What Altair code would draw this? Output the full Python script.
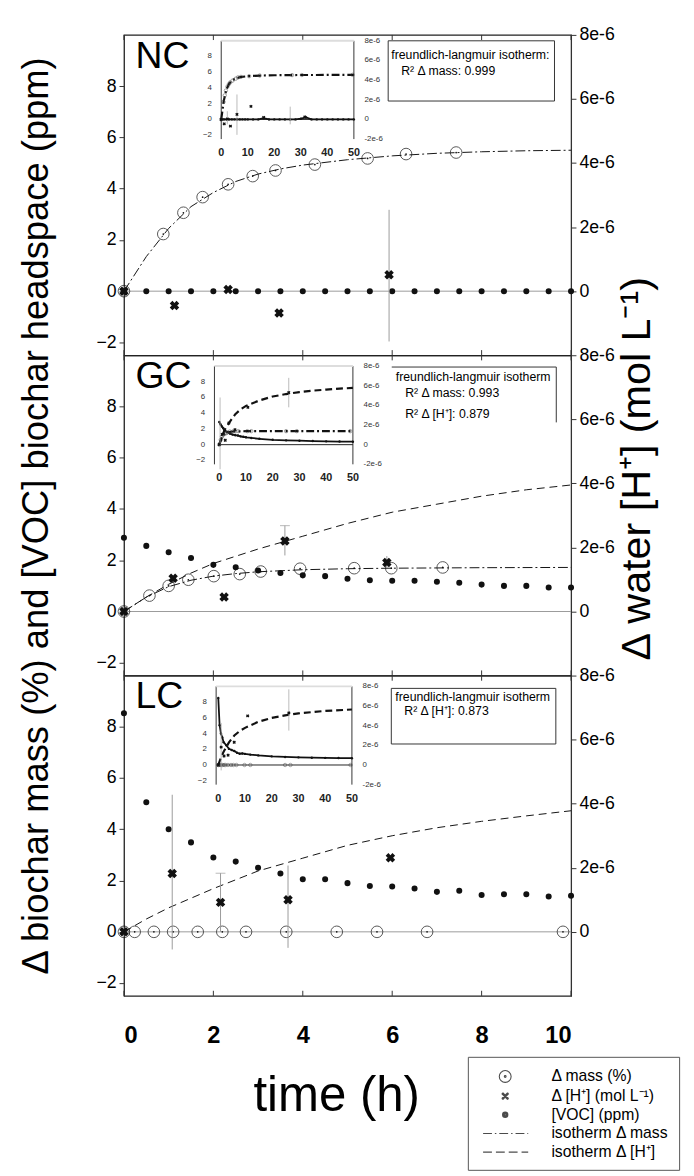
import altair as alt
import pandas as pd

FONT = "Liberation Sans"
W, H = 455, 326

# ---------------- tick / label values ----------------
X_TICKS = [0, 2, 4, 6, 8, 10]
L_TICKS = [-2, 0, 2, 4, 6, 8]
R_TICKS = [0, 2e-6, 4e-6, 6e-6, 8e-6]
IN_X_TICKS = [0, 10, 20, 30, 40, 50]
IN_L_TICKS = [-2, 0, 2, 4, 6, 8]
IN_R_TICKS = [-2e-6, 0, 2e-6, 4e-6, 6e-6, 8e-6]
IN_R_LABELS = ["-2e-6", "0", "2e-6", "4e-6", "6e-6", "8e-6"]
LEFT_TITLE = "\u0394 biochar mass (%) and [VOC] biochar headspace (ppm)"
RIGHT_TITLE = "\u0394 water [H\u207a] (mol L\u207b\u00b9)"

# ---------------- main data (time in h) ----------------
voc_hours = [0, 0.5, 1, 1.5, 2, 2.5, 3, 3.5, 4, 4.5, 5, 5.5, 6, 6.5, 7, 7.5, 8, 8.5, 9, 9.5, 10]

# NC
nc_voc = [0, 0, 0, 0, 0, 0, 0, 0, 0, 0, 0, 0, 0, 0, 0, 0, 0, 0, 0, 0, 0]
nc_mass_t = [0, 0.88, 1.33, 1.76, 2.33, 2.88, 3.39, 4.27, 5.45, 6.31, 7.43]
nc_mass = [0, 2.23, 3.06, 3.67, 4.17, 4.49, 4.71, 4.94, 5.18, 5.35, 5.41]
nc_iso_mass_t = [0, 0.5, 1, 1.5, 2, 2.5, 3, 3.5, 4, 5, 6, 7, 8, 9, 10]
nc_iso_mass = [0, 1.35, 2.45, 3.3, 3.85, 4.28, 4.57, 4.77, 4.92, 5.13, 5.28, 5.38, 5.44, 5.48, 5.5]
nc_h_t = [0, 1.13, 2.33, 3.47, 5.93]
nc_h = [0, -0.45e-6, 0.05e-6, -0.68e-6, 0.51e-6]
nc_err_t = [5.93]
nc_err_lo = [-1.57e-6]
nc_err_hi = [2.54e-6]
nc_cap_t = []
nc_cap = []
nc_iso_h_t = []
nc_iso_h = []

# GC
gc_voc = [2.88, 2.56, 2.31, 2.09, 1.82, 1.73, 1.60, 1.50, 1.41, 1.38, 1.28, 1.22, 1.20, 1.20, 1.16, 1.12,
          1.05, 1.00, 1.00, 0.94, 0.94]
gc_mass_t = [0, 0.57, 1.0, 1.44, 2.01, 2.59, 3.06, 3.94, 5.15, 5.98, 7.13]
gc_mass = [0, 0.62, 1.0, 1.24, 1.38, 1.46, 1.56, 1.67, 1.69, 1.69, 1.72]
gc_iso_mass_t = [0, 0.5, 1, 1.5, 2, 2.5, 3, 4, 5, 6, 8, 10]
gc_iso_mass = [0, 0.56, 0.97, 1.22, 1.38, 1.48, 1.55, 1.63, 1.67, 1.69, 1.71, 1.72]
gc_h_t = [0, 1.1, 2.24, 3.6, 5.88]
gc_h = [0, 1.04e-6, 0.45e-6, 2.2e-6, 1.53e-6]
gc_err_t = [3.6, 5.88]
gc_err_lo = [1.75e-6, 1.36e-6]
gc_err_hi = [2.68e-6, 1.73e-6]
gc_cap_t = [3.6]
gc_cap = [2.68e-6]
gc_iso_h_t = [0, 0.5, 1, 1.5, 2, 3, 4, 5, 6, 7, 8, 9, 10]
gc_iso_h = [0, 0.45e-6, 0.85e-6, 1.2e-6, 1.5e-6, 1.95e-6, 2.35e-6, 2.75e-6, 3.1e-6, 3.35e-6, 3.6e-6,
            3.8e-6, 3.95e-6]

# LC
lc_voc = [8.53, 5.06, 4.0, 3.49, 2.90, 2.74, 2.5, 2.28, 2.05, 2.05, 1.9, 1.79, 1.77, 1.69, 1.56, 1.6,
          1.44, 1.47, 1.47, 1.38, 1.41]
lc_mass_t = [0, 0.24, 0.67, 1.1, 1.65, 2.2, 2.73, 3.63, 4.76, 5.66, 6.78, 9.82]
lc_mass = [0, 0, 0, 0, 0, 0, 0, 0, 0, 0, 0, 0]
lc_iso_mass_t = []
lc_iso_mass = []
lc_h_t = [0, 1.08, 2.16, 3.67, 5.96]
lc_h = [0, 1.82e-6, 0.92e-6, 1.0e-6, 2.31e-6]
lc_err_t = [1.08, 2.16, 3.67]
lc_err_lo = [-0.55e-6, 0.0, -0.5e-6]
lc_err_hi = [4.28e-6, 1.83e-6, 2.07e-6]
lc_cap_t = [2.16]
lc_cap = [1.83e-6]
lc_iso_h_t = [0, 0.5, 1, 1.5, 2, 3, 4, 5, 6, 7, 8, 9, 10]
lc_iso_h = [0, 0.4e-6, 0.75e-6, 1.05e-6, 1.35e-6, 1.9e-6, 2.3e-6, 2.7e-6, 3.0e-6, 3.25e-6, 3.45e-6,
            3.62e-6, 3.78e-6]

# ---------------- inset data (time in h, 0-50) ----------------
nc_in_voc_t = [0, 1, 2, 3, 4, 5, 6, 7, 8, 9, 10, 12, 14, 16, 18, 20, 22, 24, 26, 28, 30, 32, 34, 36,
               38, 40, 42, 44, 46, 48, 50]
nc_in_voc = [0, 0, 0, 0, 0, 0, 0, 0, 0, 0, 0, 0, 0, 0.15, 0, 0, 0, 0, 0, 0, 0.1, 0.25, 0, 0,
             0, 0, 0, 0, 0, 0, 0]
nc_in_mass_t = [0, 0.88, 1.33, 1.76, 2.33, 2.88, 3.39, 4.27, 5.45, 6.31, 7.43, 10.5, 14.5, 26.7, 30.4, 49.5]
nc_in_mass = [0, 2.23, 3.06, 3.67, 4.17, 4.49, 4.71, 4.94, 5.18, 5.35, 5.41, 5.5, 5.58, 5.64, 5.65, 5.67]
nc_in_iso_mass_t = [0, 1, 2, 3, 4, 5, 7, 10, 15, 20, 30, 40, 50]
nc_in_iso_mass = [0, 2.45, 3.85, 4.55, 4.92, 5.13, 5.38, 5.5, 5.58, 5.62, 5.65, 5.66, 5.67]
nc_in_h_t = [0, 1.13, 2.33, 3.47, 5.93, 11.2, 16, 31.5]
nc_in_h = [0, -0.45e-6, 0.05e-6, -0.68e-6, 0.51e-6, 1.33e-6, 0.2e-6, 0.25e-6]
nc_in_err_t = [2.3, 5.93, 26]
nc_in_err_lo = [-0.5e-6, -1.57e-6, -0.5e-6]
nc_in_err_hi = [0.83e-6, 2.54e-6, 1.3e-6]
nc_in_iso_h_t = []
nc_in_iso_h = []

gc_in_voc_t = [0, 0.5, 1, 1.5, 2, 3, 4, 5, 6, 7, 8, 9, 10, 12, 15, 20, 25, 30, 35, 40, 45, 50]
gc_in_voc = [2.88, 2.56, 2.31, 2.09, 1.82, 1.60, 1.41, 1.28, 1.20, 1.16, 1.05, 1.0, 0.94, 0.85, 0.75,
             0.62, 0.55, 0.5, 0.46, 0.42, 0.4, 0.38]
gc_in_mass_t = [0, 0.57, 1.0, 1.44, 2.01, 2.59, 3.06, 3.94, 5.15, 5.98, 7.13, 10.5, 12, 25, 29, 49]
gc_in_mass = [0, 0.62, 1.0, 1.24, 1.38, 1.46, 1.56, 1.67, 1.69, 1.69, 1.72, 1.72, 1.72, 1.72, 1.72, 1.72]
gc_in_iso_mass_t = [0, 1, 2, 3, 5, 10, 20, 50]
gc_in_iso_mass = [0, 0.97, 1.38, 1.55, 1.67, 1.72, 1.72, 1.72]
gc_in_h_t = [0, 1.1, 2.24, 3.6, 5.88, 10.7, 26]
gc_in_h = [0, 1.04e-6, 0.45e-6, 2.2e-6, 1.53e-6, 3.8e-6, 5.3e-6]
gc_in_err_t = [0.3, 26]
gc_in_err_lo = [-2.5e-6, 3.8e-6]
gc_in_err_hi = [4.8e-6, 6.8e-6]
gc_in_iso_h_t = [0, 1, 2, 4, 6, 8, 10, 15, 20, 25, 30, 35, 40, 45, 50]
gc_in_iso_h = [0, 0.85e-6, 1.5e-6, 2.35e-6, 3.1e-6, 3.6e-6, 3.95e-6, 4.5e-6, 4.9e-6, 5.15e-6, 5.35e-6,
               5.5e-6, 5.6e-6, 5.7e-6, 5.78e-6]

lc_in_voc_t = [0, 0.5, 1, 1.5, 2, 3, 4, 5, 6, 7, 8, 9, 10, 12, 15, 20, 25, 30, 35, 40, 45, 50]
lc_in_voc = [8.53, 5.06, 4.0, 3.49, 2.9, 2.5, 2.05, 1.9, 1.77, 1.56, 1.44, 1.47, 1.41, 1.32, 1.22, 1.1,
             1.02, 0.97, 0.93, 0.9, 0.88, 0.86]
lc_in_mass_t = [0, 0.24, 0.67, 1.1, 1.65, 2.2, 2.73, 3.63, 4.76, 5.66, 6.78, 9.82, 12, 25, 27, 49.5]
lc_in_mass = [0, 0, 0, 0, 0, 0, 0, 0, 0, 0, 0, 0, 0, 0, 0, 0]
lc_in_iso_mass_t = []
lc_in_iso_mass = []
lc_in_h_t = [0, 1.08, 2.16, 3.67, 5.96, 11, 26.4]
lc_in_h = [0, 1.82e-6, 0.92e-6, 1.0e-6, 2.31e-6, 5.0e-6, 5.3e-6]
lc_in_err_t = [1.08, 26.4]
lc_in_err_lo = [-0.55e-6, 3.5e-6]
lc_in_err_hi = [4.28e-6, 7.7e-6]
lc_in_iso_h_t = [0, 1, 2, 4, 6, 8, 10, 15, 20, 25, 30, 40, 50]
lc_in_iso_h = [0, 0.75e-6, 1.35e-6, 2.3e-6, 3.0e-6, 3.45e-6, 3.78e-6, 4.4e-6, 4.8e-6, 5.05e-6, 5.25e-6,
               5.5e-6, 5.65e-6]

# ---------------- annotation boxes ----------------
nc_box = [5.91, 9.63, 7.42, 9.77]
nc_txt_t = [5.98, 6.2]
nc_txt_v = [9.23, 8.58]
nc_txt = ["freundlich-langmuir isotherm:", "R\u00b2 \u0394 mass: 0.999"]
gc_box = [5.99, 9.67, 7.38, 9.54]
gc_txt_t = [6.08, 6.29, 6.29]
gc_txt_v = [9.15, 8.54, 7.69]
gc_txt = ["freundlich-langmuir isotherm", "R\u00b2 \u0394 mass: 0.993", "R\u00b2 \u0394 [H\u207a]: 0.879"]
lc_box = [5.98, 9.66, 7.33, 9.5]
lc_txt_t = [6.07, 6.27]
lc_txt_v = [9.15, 8.6]
lc_txt = ["freundlich-langmuir isotherm", "R\u00b2 \u0394 [H\u207a]: 0.873"]

# ---------------- legend ----------------
LEG_LABELS = ["\u0394 mass (%)", "\u0394 [H\u207a] (mol L\u207b\u00b9)", "[VOC] (ppm)",
              "isotherm \u0394 mass", "isotherm \u0394 [H\u207a]"]
LEG_PATHS = [
    "M0.67,0A0.67,0.67,0,1,1,-0.67,0A0.67,0.67,0,1,1,0.67,0M0.1,0A0.1,0.1,0,1,1,-0.1,0A0.1,0.1,0,1,1,0.1,0",
    "M-0.36,-0.36L0.36,0.36M-0.36,0.36L0.36,-0.36M-0.28,-0.4L0.4,0.28M-0.4,-0.28L0.28,0.4"
    "M-0.28,0.4L0.4,-0.28M-0.4,0.28L0.28,-0.4",
    "M0.3,0A0.3,0.3,0,1,1,-0.3,0A0.3,0.3,0,1,1,0.3,0M0.2,0A0.2,0.2,0,1,1,-0.2,0A0.2,0.2,0,1,1,0.2,0"
    "M0.1,0A0.1,0.1,0,1,1,-0.1,0A0.1,0.1,0,1,1,0.1,0",
    "M-2.5,0H-1.5M-1.17,0H-1.0M-0.67,0H0.33M0.67,0H0.83M1.17,0H2.17M2.5,0H2.6",
    "M-2.5,0H-1.5M-1.05,0H-0.05M0.4,0H1.4M1.85,0H2.6",
]
LEG_T = [-5, -5, -5, -5, -5]
LEG_V = [-5, -5, -5, -5, -5]

PANELS = {
    "NC": dict(voc=nc_voc, mass_t=nc_mass_t, mass=nc_mass, iso_mass_t=nc_iso_mass_t, iso_mass=nc_iso_mass,
               h_t=nc_h_t, h=nc_h, err_t=nc_err_t, err_lo=nc_err_lo, err_hi=nc_err_hi, cap_t=nc_cap_t,
               cap=nc_cap, iso_h_t=nc_iso_h_t, iso_h=nc_iso_h, box=nc_box, full_box=True,
               txt_t=nc_txt_t, txt_v=nc_txt_v, txt=nc_txt,
               inset=dict(IL=99, IR=234, IZ=86, IFL=0.0, voc_t=nc_in_voc_t, voc=nc_in_voc,
                          mass_t=nc_in_mass_t, mass=nc_in_mass, iso_mass_t=nc_in_iso_mass_t,
                          iso_mass=nc_in_iso_mass, h_t=nc_in_h_t, h=nc_in_h, err_t=nc_in_err_t,
                          err_lo=nc_in_err_lo, err_hi=nc_in_err_hi, iso_h_t=nc_in_iso_h_t,
                          iso_h=nc_in_iso_h)),
    "GC": dict(voc=gc_voc, mass_t=gc_mass_t, mass=gc_mass, iso_mass_t=gc_iso_mass_t, iso_mass=gc_iso_mass,
               h_t=gc_h_t, h=gc_h, err_t=gc_err_t, err_lo=gc_err_lo, err_hi=gc_err_hi, cap_t=gc_cap_t,
               cap=gc_cap, iso_h_t=gc_iso_h_t, iso_h=gc_iso_h, box=gc_box, full_box=False,
               txt_t=gc_txt_t, txt_v=gc_txt_v, txt=gc_txt,
               inset=dict(IL=97, IR=233, IZ=91, IFL=-1.8, voc_t=gc_in_voc_t, voc=gc_in_voc,
                          mass_t=gc_in_mass_t, mass=gc_in_mass, iso_mass_t=gc_in_iso_mass_t,
                          iso_mass=gc_in_iso_mass, h_t=gc_in_h_t, h=gc_in_h, err_t=gc_in_err_t,
                          err_lo=gc_in_err_lo, err_hi=gc_in_err_hi, iso_h_t=gc_in_iso_h_t,
                          iso_h=gc_in_iso_h)),
    "LC": dict(voc=lc_voc, mass_t=lc_mass_t, mass=lc_mass, iso_mass_t=lc_iso_mass_t, iso_mass=lc_iso_mass,
               h_t=lc_h_t, h=lc_h, err_t=lc_err_t, err_lo=lc_err_lo, err_hi=lc_err_hi, cap_t=lc_cap_t,
               cap=lc_cap, iso_h_t=lc_iso_h_t, iso_h=lc_iso_h, box=lc_box, full_box=True,
               txt_t=lc_txt_t, txt_v=lc_txt_v, txt=lc_txt,
               inset=dict(IL=96, IR=232, IZ=91, IFL=-0.8, voc_t=lc_in_voc_t, voc=lc_in_voc,
                          mass_t=lc_in_mass_t, mass=lc_in_mass, iso_mass_t=lc_in_iso_mass_t,
                          iso_mass=lc_in_iso_mass, h_t=lc_in_h_t, h=lc_in_h, err_t=lc_in_err_t,
                          err_lo=lc_in_err_lo, err_hi=lc_in_err_hi, iso_h_t=lc_in_iso_h_t,
                          iso_h=lc_in_iso_h)),
}

BLACK = "#111111"
GREY = "#9a9a9a"


def main_left(name, P, bottom, title, legend):
    XM = alt.Scale(domain=[0, 10], nice=False, zero=False)
    YL = alt.Scale(domain=[-2.5, 10], nice=False, zero=False)
    if bottom:
        AXX = alt.Axis(values=X_TICKS, format="d", labelFontSize=24, labelFontWeight="bold",
                       labelPadding=28, ticks=False, domain=False, grid=False, title="time (h)",
                       titleFontSize=50, titleFontWeight="normal", titleX=216, titleY=102,
                       titleAlign="center", titleBaseline="middle")
    else:
        AXX = None
    kw = dict(values=L_TICKS, labelFontSize=18, tickSize=5, labelPadding=3, grid=False, orient="left")
    if title:
        kw.update(title=LEFT_TITLE, titleFontSize=37, titleFontWeight="normal", titleAngle=270,
                  titleX=-89, titleY=H / 2, titleAlign="center", titleBaseline="middle")
    else:
        kw.update(title=None)
    AXL = alt.Axis(**kw)

    def X(f):
        return alt.X(f, type="quantitative", scale=XM, axis=AXX)

    def Y(f):
        return alt.Y(f, type="quantitative", scale=YL, axis=AXL)

    L = []
    L.append(alt.Chart(pd.DataFrame({"v": [0]})).mark_rule(color=GREY, strokeWidth=1).encode(y=Y("v")))
    tdf = pd.DataFrame({"t": X_TICKS})
    L.append(alt.Chart(tdf).transform_calculate(a="-2.5", b="-2.3")
             .mark_rule(color="#333333").encode(x=X("t"), y=Y("a"), y2="b"))
    L.append(alt.Chart(tdf).transform_calculate(a="10", b="9.8")
             .mark_rule(color="#333333").encode(x=X("t"), y=Y("a"), y2="b"))
    # annotation box
    b = P["box"]
    bdf = pd.DataFrame({"t0": [b[0]], "t1": [b[1]], "v0": [b[2]], "v1": [b[3]]})
    if P["full_box"]:
        L.append(alt.Chart(bdf).mark_rect(fill="white", stroke="#333333", strokeWidth=1)
                 .encode(x=X("t0"), x2="t1", y=Y("v0"), y2="v1"))
    else:
        L.append(alt.Chart(bdf).mark_rect(fill="white", strokeWidth=0)
                 .encode(x=X("t0"), x2="t1", y=Y("v0"), y2="v1"))
        L.append(alt.Chart(bdf).mark_rule(color="#333333").encode(x=X("t0"), x2="t1", y=Y("v1")))
        L.append(alt.Chart(bdf).mark_rule(color="#333333").encode(x=X("t1"), y=Y("v0"), y2="v1"))
    L.append(alt.Chart(pd.DataFrame({"t": P["txt_t"], "v": P["txt_v"], "s": P["txt"]}))
             .mark_text(align="left", baseline="middle", fontSize=12.5, font=FONT, color="black")
             .encode(x=X("t"), y=Y("v"), text="s:N"))
    # data
    L.append(alt.Chart(pd.DataFrame({"t": voc_hours, "v": P["voc"]}))
             .mark_circle(size=38, color=BLACK, opacity=1).encode(x=X("t"), y=Y("v")))
    if P["iso_mass_t"]:
        L.append(alt.Chart(pd.DataFrame({"t": P["iso_mass_t"], "v": P["iso_mass"]}))
                 .mark_line(color=BLACK, strokeWidth=1, strokeDash=[10, 3, 2, 3])
                 .encode(x=X("t"), y=Y("v")))
    mdf = pd.DataFrame({"t": P["mass_t"], "v": P["mass"]})
    L.append(alt.Chart(mdf).mark_point(shape="circle", filled=False, size=140, color=BLACK, strokeWidth=1)
             .encode(x=X("t"), y=Y("v")))
    L.append(alt.Chart(mdf).mark_circle(size=3, color=BLACK, opacity=1).encode(x=X("t"), y=Y("v")))
    # panel label
    L.append(alt.Chart(pd.DataFrame({"t": [0.26], "v": [9.15], "s": [name]}))
             .mark_text(align="left", baseline="middle", fontSize=38, font=FONT, color="black")
             .encode(x=X("t"), y=Y("v"), text="s:N"))
    if legend:
        L.append(alt.Chart(pd.DataFrame({"t": LEG_T, "v": LEG_V, "k": LEG_LABELS}))
                 .mark_point(filled=False, clip=True, color="black", strokeWidth=1.1)
                 .encode(x=X("t"), y=Y("v"),
                         shape=alt.Shape("k:N", scale=alt.Scale(domain=LEG_LABELS, range=LEG_PATHS),
                                         legend=alt.Legend(title=None, orient="none", legendX=350,
                                                           legendY=388, symbolSize=324,
                                                           symbolStrokeWidth=1.1,
                                                           symbolStrokeColor="black",
                                                           symbolOffset=18, labelOffset=37,
                                                           labelFontSize=16, labelFont=FONT,
                                                           labelColor="black", padding=10,
                                                           rowPadding=1, strokeColor="#555555",
                                                           fillColor="white"))))
    return alt.layer(*L)


def main_right(P, title):
    XM = alt.Scale(domain=[0, 10], nice=False, zero=False)
    YR = alt.Scale(domain=[-2e-6, 8e-6], nice=False, zero=False)
    kw = dict(values=R_TICKS, labelFontSize=18, tickSize=5, labelPadding=3, grid=False, orient="right",
              labelExpr="datum.value == 0 ? '0' : round(datum.value * 1000000) + 'e-6'")
    if title:
        kw.update(title=RIGHT_TITLE, titleFontSize=42, titleFontWeight="normal", titleAngle=270,
                  titleX=67, titleY=115, titleAlign="center", titleBaseline="middle")
    else:
        kw.update(title=None)
    AXR = alt.Axis(**kw)

    def X(f):
        return alt.X(f, type="quantitative", scale=XM, axis=None)

    def Y(f):
        return alt.Y(f, type="quantitative", scale=YR, axis=AXR)

    L = []
    if P["iso_h_t"]:
        L.append(alt.Chart(pd.DataFrame({"t": P["iso_h_t"], "v": P["iso_h"]}))
                 .mark_line(color=BLACK, strokeWidth=1, strokeDash=[8, 5]).encode(x=X("t"), y=Y("v")))
    L.append(alt.Chart(pd.DataFrame({"t": P["err_t"], "lo": P["err_lo"], "hi": P["err_hi"]}))
             .mark_rule(color=GREY, strokeWidth=1).encode(x=X("t"), y=Y("lo"), y2="hi"))
    if P["cap_t"]:
        L.append(alt.Chart(pd.DataFrame({"t": P["cap_t"], "v": P["cap"]}))
                 .mark_tick(orient="horizontal", size=10, thickness=1, color=GREY)
                 .encode(x=X("t"), y=Y("v")))
    L.append(alt.Chart(pd.DataFrame({"t": P["h_t"], "v": P["h"]}))
             .mark_point(shape="cross", angle=45, filled=True, size=95, color=BLACK, opacity=1)
             .encode(x=X("t"), y=Y("v")))
    return alt.layer(*L)


def inset(I):
    ppt = (I["IR"] - I["IL"]) / 50.0
    XI = alt.Scale(domain=[-I["IL"] / ppt, (W - I["IL"]) / ppt], nice=False, zero=False)
    YIL = alt.Scale(domain=[(I["IZ"] - H) / 8.0, I["IZ"] / 8.0], nice=False, zero=False)
    YIR = alt.Scale(domain=[(I["IZ"] - H) / 10.0 * 1e-6, I["IZ"] / 10.0 * 1e-6], nice=False, zero=False)

    def X(f):
        return alt.X(f, type="quantitative", scale=XI, axis=None)

    def YL(f):
        return alt.Y(f, type="quantitative", scale=YIL, axis=None)

    def YR(f):
        return alt.Y(f, type="quantitative", scale=YIR, axis=None)

    A = []
    fdf = pd.DataFrame({"t": [I["IFL"], 50], "a": [-2.5, -2.5], "b": [10, 10]})
    A.append(alt.Chart(fdf).mark_rule(color="#333333", strokeWidth=1).encode(x=X("t"), y=YL("a"), y2="b"))
    A.append(alt.Chart(pd.DataFrame({"t0": [I["IFL"]], "t1": [50], "v": [10]}))
             .mark_rule(color="#dddddd", strokeWidth=2).encode(x=X("t0"), x2="t1", y=YL("v")))
    A.append(alt.Chart(pd.DataFrame({"t0": [0], "t1": [50], "v": [0]}))
             .mark_rule(color="#222222", strokeWidth=1).encode(x=X("t0"), x2="t1", y=YL("v")))
    A.append(alt.Chart(pd.DataFrame({"v": IN_L_TICKS}))
             .transform_calculate(t=str(I["IFL"] - 3.5))
             .mark_text(align="right", baseline="middle", fontSize=8, font=FONT, color="#333333")
             .encode(x=X("t"), y=YL("v"), text=alt.Text("v:Q", format="d")))
    A.append(alt.Chart(pd.DataFrame({"t": IN_X_TICKS}))
             .transform_calculate(v="-4.3")
             .mark_text(align="center", baseline="middle", fontSize=11, fontWeight="bold", font=FONT,
                        color="#222222")
             .encode(x=X("t"), y=YL("v"), text=alt.Text("t:Q", format="d")))
    A.append(alt.Chart(pd.DataFrame({"t": I["voc_t"], "v": I["voc"]}))
             .mark_line(color=BLACK, strokeWidth=1.8).encode(x=X("t"), y=YL("v")))
    A.append(alt.Chart(pd.DataFrame({"t": I["voc_t"], "v": I["voc"]}))
             .mark_circle(size=6, color=BLACK, opacity=1).encode(x=X("t"), y=YL("v")))
    if I["iso_mass_t"]:
        A.append(alt.Chart(pd.DataFrame({"t": I["iso_mass_t"], "v": I["iso_mass"]}))
                 .mark_line(color=BLACK, strokeWidth=2.2, strokeDash=[8, 3, 2, 3])
                 .encode(x=X("t"), y=YL("v")))
    A.append(alt.Chart(pd.DataFrame({"t": I["mass_t"], "v": I["mass"]}))
             .mark_point(shape="circle", filled=False, size=12, strokeWidth=0.7, color="#444444")
             .encode(x=X("t"), y=YL("v")))

    B = []
    B.append(alt.Chart(pd.DataFrame({"v": IN_R_TICKS, "s": IN_R_LABELS}))
             .transform_calculate(t="54")
             .mark_text(align="left", baseline="middle", fontSize=8, font=FONT, color="#333333")
             .encode(x=X("t"), y=YR("v"), text="s:N"))
    if I["iso_h_t"]:
        B.append(alt.Chart(pd.DataFrame({"t": I["iso_h_t"], "v": I["iso_h"]}))
                 .mark_line(color=BLACK, strokeWidth=2.2, strokeDash=[7, 4]).encode(x=X("t"), y=YR("v")))
    B.append(alt.Chart(pd.DataFrame({"t": I["err_t"], "lo": I["err_lo"], "hi": I["err_hi"]}))
             .mark_rule(color="#aaaaaa", strokeWidth=0.8).encode(x=X("t"), y=YR("lo"), y2="hi"))
    B.append(alt.Chart(pd.DataFrame({"t": I["h_t"], "v": I["h"]}))
             .mark_point(shape="cross", angle=45, filled=True, size=12, color=BLACK, opacity=1)
             .encode(x=X("t"), y=YR("v")))
    return alt.layer(*A), alt.layer(*B)


def panel(name, bottom=False, titles=False, legend=False):
    P = PANELS[name]
    il, ir = inset(P["inset"])
    return (alt.layer(main_left(name, P, bottom, titles, legend), main_right(P, titles), il, ir)
            .resolve_scale(x="independent", y="independent")
            .properties(width=W, height=H))


chart = (alt.vconcat(panel("NC"), panel("GC", titles=True), panel("LC", bottom=True, legend=True),
                     spacing=0, bounds="flush")
         .resolve_scale(shape="independent")
         .resolve_legend(shape="independent")
         .properties(padding={"left": 9, "top": 7, "right": 5, "bottom": 0})
         .configure_view(stroke="#222222", strokeWidth=1.2)
         .configure_axis(labelFont=FONT, titleFont=FONT, labelColor="black", titleColor="black",
                         domainColor="#333333", tickColor="#333333"))

chart.save("out.html", embed_options={"renderer": "svg", "actions": False})
